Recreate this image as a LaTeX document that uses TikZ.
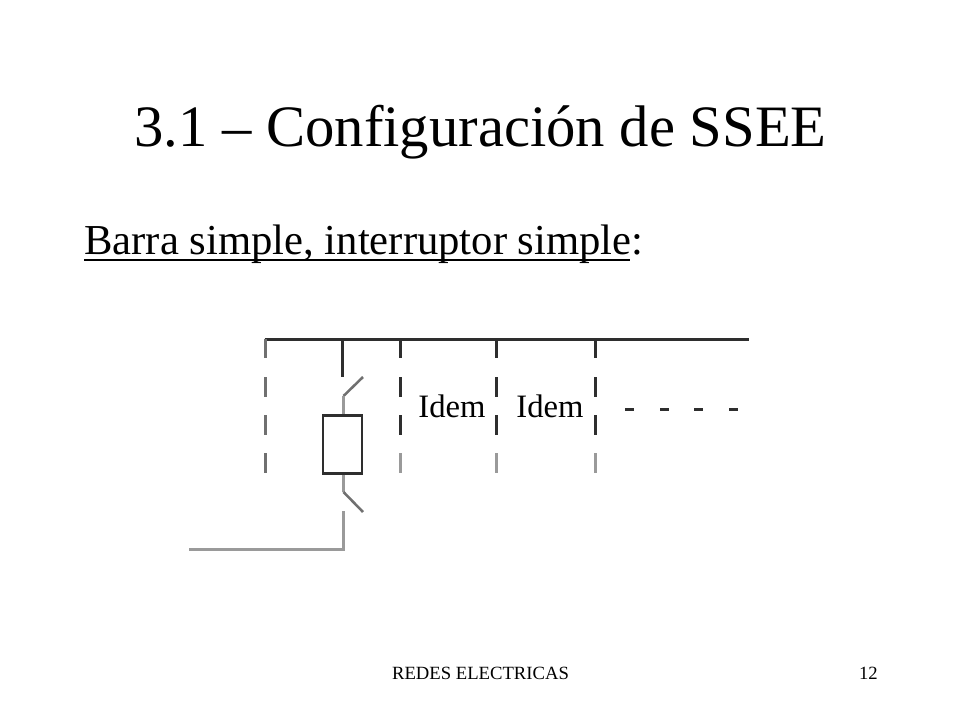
\documentclass[tikz,border=0pt]{standalone}
\usepackage{fontspec}
\setmainfont{Liberation Serif}
\definecolor{inkd}{HTML}{2E2E2E}
\definecolor{inkm}{HTML}{707070}
\definecolor{inkl}{HTML}{9A9A9A}
\tikzset{
  px/.style={x=0.75pt,y=-0.75pt},
  wire/.style={line width=1.9pt,draw=inkd},
  wirem/.style={line width=1.9pt,draw=inkm},
  wirel/.style={line width=1.9pt,draw=inkl},
  txt/.style={inner sep=0pt,anchor=base,text=black},
}
\begin{document}
\begin{tikzpicture}[px]
\useasboundingbox (0,0) rectangle (960,720);
\node[txt,font=\fontsize{44}{44}\selectfont] (title) at (480.5,146.5) {3.1 – Configuración de SSEE};
\node[txt,anchor=base west,font=\fontsize{32}{32}\selectfont] (sub) at (84,255) {Barra simple, interruptor simple:};
\coordinate (ula) at (84,260);
\coordinate (ulb) at (629.5,260);
\draw[line width=1.6pt,draw=black] (ula) -- (ulb);
\node[txt,font=\fontsize{24.5}{24.5}\selectfont] (idema) at (452,417) {Idem};
\node[txt,font=\fontsize{24.5}{24.5}\selectfont] (idemb) at (550,417) {Idem};
\node[txt,font=\fontsize{14}{14}\selectfont] (foot) at (480.5,679.5) {REDES ELECTRICAS};
\node[txt,anchor=base east,font=\fontsize{14}{14}\selectfont] (page) at (878,679.5) {12};
% bus
\coordinate (busl) at (264.5,339.5);
\coordinate (busr) at (749,339.5);
\draw[wire] (busl) -- (busr);
% dashed drops
\foreach \x/\c/\d in {265.5/inkm/inkm,400.5/inkd/inkl,496.5/inkd/inkl,595.5/inkd/inkl}{
  \draw[line width=1.9pt,draw=\c] (\x,339) -- (\x,358);
  \draw[line width=1.9pt,draw=\c] (\x,377) -- (\x,397);
  \draw[line width=1.9pt,draw=\c] (\x,415) -- (\x,435);
  \draw[line width=1.9pt,draw=\d] (\x,453) -- (\x,473);
}
% breaker branch
\coordinate (tap) at (342.5,339);
\coordinate (tape) at (342.5,377);
\node[draw=inkd,line width=1.9pt,minimum width=29.5pt,minimum height=43.5pt,inner sep=0pt] (brk) at (342.5,444.5) {};
\coordinate (ua) at (343.5,396);
\coordinate (ub) at (363,377);
\coordinate (la) at (343.5,492);
\coordinate (lb) at (363,512);
\coordinate (ga) at (343.5,511);
\coordinate (gb) at (343.5,549.5);
\coordinate (gc) at (189,549.5);
\draw[wire] (tap) -- (tape);
\draw[wirem] (ub) -- (ua);
\draw[wirel] (ua) -- (brk.north -| ua);
\draw[wirel] (brk.south -| la) -- (la);
\draw[wirem] (la) -- (lb);
\draw[wirel] (ga) -- (gb) -- (gc);
% dashes at right
\foreach \x in {625,660,694,729}{
  \draw[line width=1.9pt,draw=inkd] (\x,409.5) -- +(9,0);
}
\end{tikzpicture}
\end{document}
